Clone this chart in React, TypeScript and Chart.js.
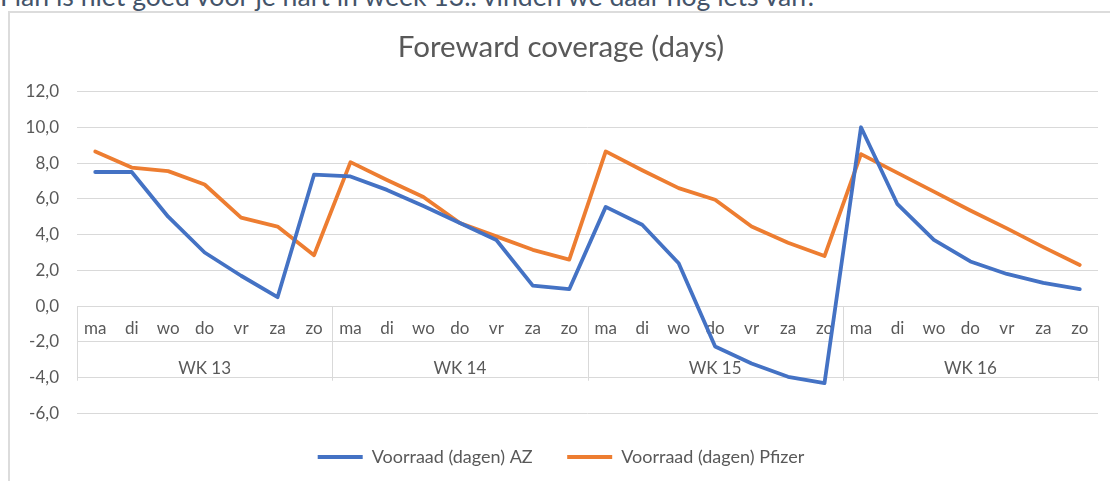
import React, { useEffect, useRef } from "react";
import { Chart, registerables } from "chart.js";

Chart.register(...registerables);

const headerText = "Flan is niet goed voor je hart in week 13.. vinden we daar nog iets van?";
const chartTitle = "Foreward coverage (days)";
const weekLabels = ["WK 13", "WK 14", "WK 15", "WK 16"];
const dayNames = ["ma", "di", "wo", "do", "vr", "za", "zo"];
const dayLabels = weekLabels.flatMap(() => dayNames);

const azLabel = "Voorraad (dagen) AZ";
const pfizerLabel = "Voorraad (dagen) Pfizer";

const azValues = [
  7.5, 7.5, 5.0, 3.0, 1.7, 0.5, 7.35,
  7.25, 6.5, 5.6, 4.65, 3.7, 1.15, 0.95,
  5.55, 4.55, 2.4, -2.25, -3.2, -3.95, -4.3,
  10.0, 5.7, 3.7, 2.5, 1.8, 1.3, 0.95,
];
const pfizerValues = [
  8.65, 7.75, 7.55, 6.8, 4.95, 4.45, 2.85,
  8.05, 7.05, 6.1, 4.65, 3.9, 3.15, 2.6,
  8.65, 7.6, 6.6, 5.95, 4.45, 3.55, 2.8,
  8.5, 7.45, 6.4, 5.35, 4.35, 3.3, 2.3,
];

const yMin = -6;
const yMax = 12;
const yStep = 2;

const BLUE = "#4472c4";
const ORANGE = "#ed7d31";
const GRID = "#d9d9d9";
const TEXT = "#595959";
const FONT = "Lato, 'Open Sans', sans-serif";

const weekGroupPlugin = {
  id: "weekGroups",
  beforeDatasetsDraw(chart: any) {
    const { ctx, scales } = chart;
    const x = scales.x;
    const y = scales.y;
    const y0 = y.getPixelForValue(0);
    const yb = y.getPixelForValue(-4) + 3;
    const n = dayLabels.length;
    const per = dayNames.length;
    const half = (x.getPixelForValue(1) - x.getPixelForValue(0)) / 2;
    ctx.save();
    ctx.strokeStyle = GRID;
    ctx.lineWidth = 1;
    for (let w = 0; w <= weekLabels.length; w++) {
      const idx = w * per;
      const px = idx < n ? x.getPixelForValue(idx) - half : x.getPixelForValue(n - 1) + half;
      const sx = Math.round(px) + 0.5;
      ctx.beginPath();
      ctx.moveTo(sx, y0);
      ctx.lineTo(sx, yb);
      ctx.stroke();
    }
    ctx.fillStyle = TEXT;
    ctx.font = `17px ${FONT}`;
    ctx.textAlign = "center";
    ctx.textBaseline = "middle";
    weekLabels.forEach((lbl, w) => {
      const a = x.getPixelForValue(w * per);
      const b = x.getPixelForValue(w * per + per - 1);
      ctx.fillText(lbl, (a + b) / 2, y0 + 62);
    });
    ctx.restore();
  },
};

function ChartView() {
  const ref = useRef<HTMLCanvasElement | null>(null);
  useEffect(() => {
    if (!ref.current) return;
    const chart = new Chart(ref.current, {
      type: "line",
      data: {
        labels: dayLabels,
        datasets: [
          {
            label: azLabel,
            data: azValues,
            borderColor: BLUE,
            backgroundColor: BLUE,
            borderWidth: 3.8,
            pointRadius: 0,
            tension: 0,
            borderJoinStyle: "round",
            borderCapStyle: "round",
          },
          {
            label: pfizerLabel,
            data: pfizerValues,
            borderColor: ORANGE,
            backgroundColor: ORANGE,
            borderWidth: 3.8,
            pointRadius: 0,
            tension: 0,
            borderJoinStyle: "round",
            borderCapStyle: "round",
          },
        ],
      },
      options: {
        responsive: false,
        animation: false,
        devicePixelRatio: 1,
        layout: { padding: { left: 24, right: 12, top: 0, bottom: 5 } },
        scales: {
          x: {
            type: "category",
            position: { y: 0 } as any,
            offset: true,
            grid: { display: false, drawTicks: false },
            border: { display: false },
            ticks: {
              autoSkip: false,
              maxRotation: 0,
              padding: 12.6,
              color: TEXT,
              font: { family: FONT, size: 17 },
            },
          },
          y: {
            min: yMin,
            max: yMax,
            afterFit: (s: any) => {
              s.width = 53;
            },
            grid: { color: GRID, lineWidth: 1, drawTicks: false },
            border: { display: false },
            ticks: {
              stepSize: yStep,
              padding: 18,
              color: TEXT,
              font: { family: FONT, size: 17 },
              callback: (v: any) => Number(v).toFixed(1).replace(".", ","),
            },
          },
        },
        plugins: {
          title: {
            display: true,
            text: chartTitle,
            color: TEXT,
            font: { family: FONT, size: 29.5, weight: "normal" },
            padding: { top: 29.3, bottom: 26.8 },
          },
          legend: {
            display: true,
            position: "bottom",
            labels: {
              boxWidth: 45,
              boxHeight: 4,
              padding: 34.5,
              color: TEXT,
              font: { family: FONT, size: 18 },
              generateLabels: (c: any) =>
                Chart.defaults.plugins.legend.labels.generateLabels(c).map((l: any) => ({
                  ...l,
                  lineWidth: 0,
                })),
            },
          },
          tooltip: { enabled: false },
        },
      },
      plugins: [weekGroupPlugin],
    });
    return () => chart.destroy();
  }, []);
  return <canvas ref={ref} width={1110} height={481} style={{ position: "absolute", left: 0, top: 0 }} />;
}

export default function App() {
  return (
    <div
      style={{
        position: "fixed",
        left: 0,
        top: 0,
        width: 1110,
        height: 481,
        overflow: "hidden",
        background: "#fff",
      }}
    >
      <div
        style={{
          position: "absolute",
          left: 0,
          top: -20,
          fontFamily: FONT,
          fontSize: 26.6,
          color: "#44546a",
          whiteSpace: "nowrap",
        }}
      >
        {headerText}
      </div>
      <div
        style={{
          position: "absolute",
          left: 8,
          top: 11,
          width: 1120,
          height: 520,
          border: "2px solid #dcdcdc",
        }}
      />
      <ChartView />
    </div>
  );
}
